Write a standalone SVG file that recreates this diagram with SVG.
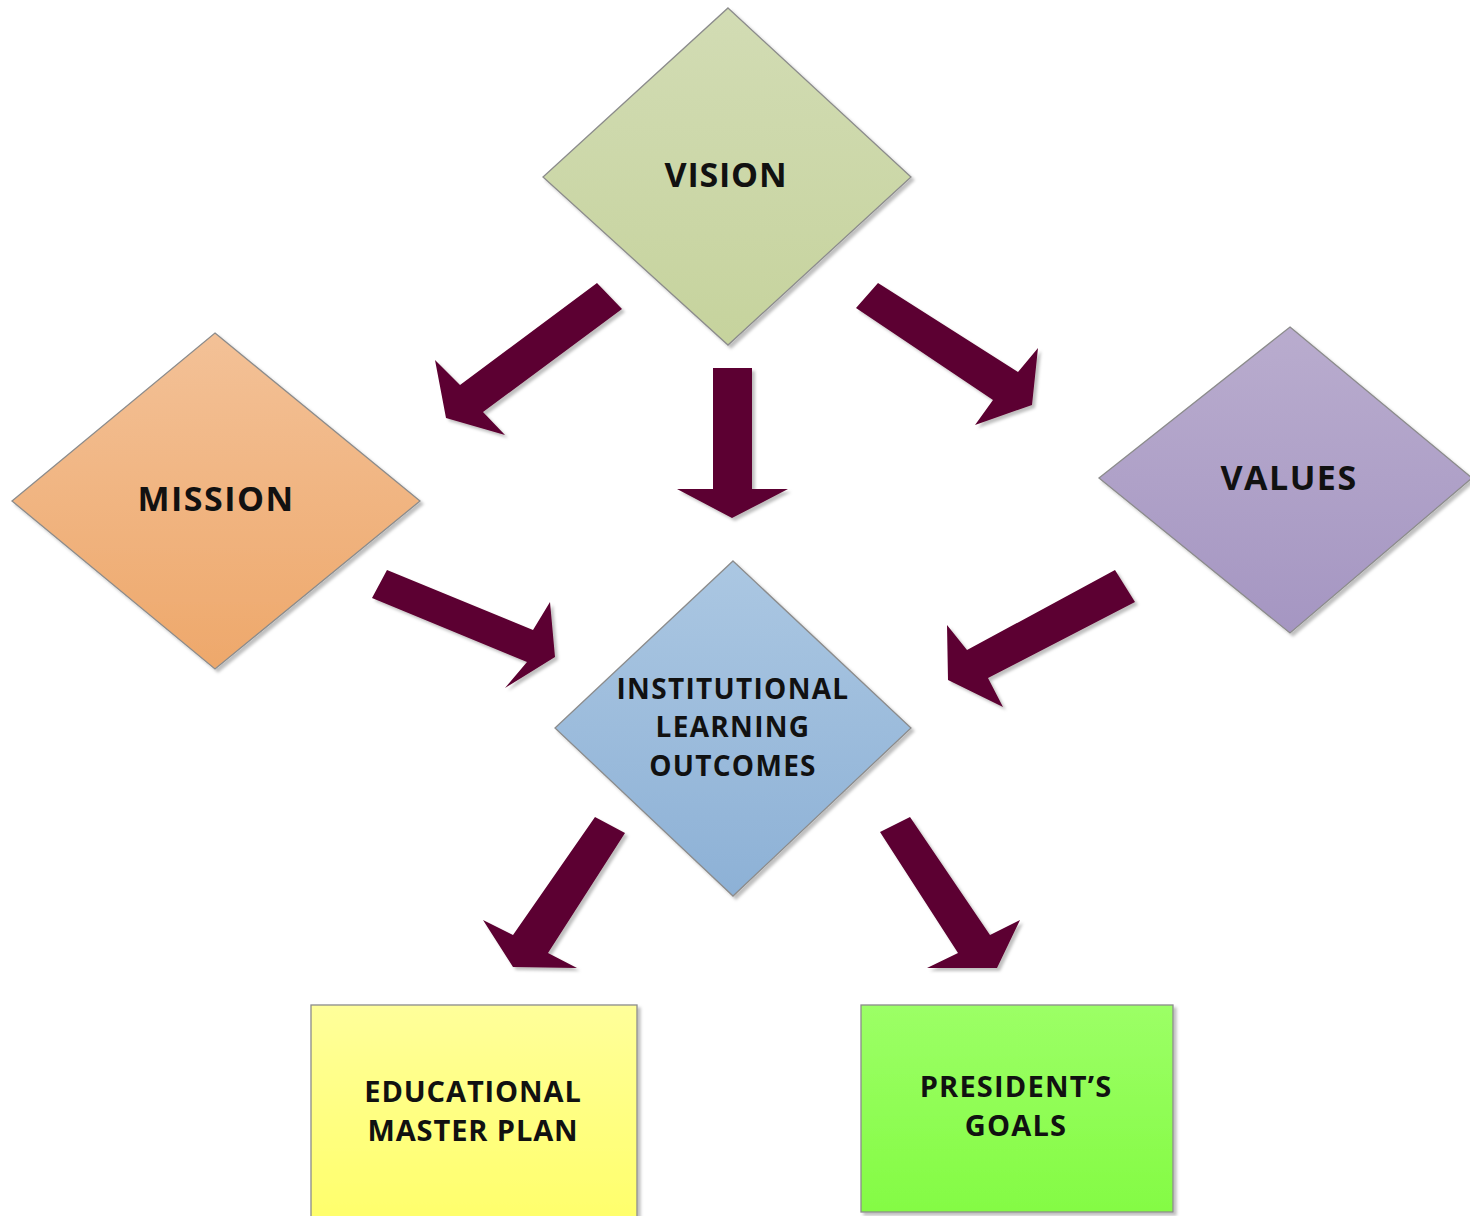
<svg xmlns="http://www.w3.org/2000/svg" width="1470" height="1216" viewBox="0 0 1470 1216">
<style>
.node{stroke:#8c8c8c;stroke-width:1.3}
.lbl{font-family:"Open Sans","Liberation Sans",sans-serif;font-weight:bold;fill:#111;text-anchor:middle}
.arrow{fill:#5c0030}
</style>
<defs>
<linearGradient id="gV" x1="0" y1="0" x2="0" y2="1"><stop offset="0" stop-color="#d2dcb4"/><stop offset="1" stop-color="#c6d39d"/></linearGradient>
<linearGradient id="gM" x1="0" y1="0" x2="0" y2="1"><stop offset="0" stop-color="#f3c197"/><stop offset="1" stop-color="#eea86b"/></linearGradient>
<linearGradient id="gVa" x1="0" y1="0" x2="0" y2="1"><stop offset="0" stop-color="#b9acce"/><stop offset="1" stop-color="#a596c2"/></linearGradient>
<linearGradient id="gI" x1="0" y1="0" x2="0" y2="1"><stop offset="0" stop-color="#abc7e2"/><stop offset="1" stop-color="#8db1d6"/></linearGradient>
<linearGradient id="gE" x1="0" y1="0" x2="0" y2="1"><stop offset="0" stop-color="#ffff9a"/><stop offset="1" stop-color="#ffff6a"/></linearGradient>
<linearGradient id="gP" x1="0" y1="0" x2="0" y2="1"><stop offset="0" stop-color="#9cff66"/><stop offset="1" stop-color="#84fb44"/></linearGradient>
<filter id="sh" x="-10%" y="-10%" width="130%" height="130%"><feDropShadow dx="3" dy="3" stdDeviation="1.5" flood-color="#000" flood-opacity="0.25"/></filter>
</defs>
<rect width="1470" height="1216" fill="#fff"/>
<g id="connectors" filter="url(#sh)">
<polygon class="arrow" points="597,283 622,309 483,412 505,435 446,418 435,360 460,385"/>
<polygon class="arrow" points="713,368 752,368 752,489 788,489 732,518 677,489 713,489"/>
<polygon class="arrow" points="878,283 1018,372 1038,348 1032,405 975,425 993,400 856,308"/>
<polygon class="arrow" points="387,570 533,630 550,602 555,657 505,688 527,662 372,598"/>
<polygon class="arrow" points="1115,570 967,650 947,625 948,680 1003,707 988,678 1135,602"/>
<polygon class="arrow" points="595,817 625,833 548,953 577,968 513,967 483,920 513,935"/>
<polygon class="arrow" points="910,817 990,935 1020,920 997,968 927,968 958,953 880,832"/>
</g>
<g id="vision">
<polygon class="node" fill="url(#gV)" filter="url(#sh)" points="728,8 911,177 728,345 543,177"/>
<text class="lbl" x="726" y="187" font-size="34" letter-spacing="0.8">VISION</text>
</g>
<g id="mission">
<polygon class="node" fill="url(#gM)" filter="url(#sh)" points="215,333 420,501 215,669 12,501"/>
<text class="lbl" x="216" y="511" font-size="34" letter-spacing="1.5">MISSION</text>
</g>
<g id="values">
<polygon class="node" fill="url(#gVa)" filter="url(#sh)" points="1290,327 1472,478 1290,633 1099,478"/>
<text class="lbl" x="1289" y="490" font-size="34" letter-spacing="1.5">VALUES</text>
</g>
<g id="ilo">
<polygon class="node" fill="url(#gI)" filter="url(#sh)" points="733,561 911,728 733,896 555,728"/>
<text class="lbl" x="733" y="699" font-size="28" letter-spacing="1.3">INSTITUTIONAL</text>
<text class="lbl" x="733" y="737" font-size="28" letter-spacing="1.3">LEARNING</text>
<text class="lbl" x="733" y="776" font-size="28" letter-spacing="1.3">OUTCOMES</text>
</g>
<g id="emp">
<rect class="node" fill="url(#gE)" filter="url(#sh)" x="311" y="1005" width="326" height="220"/>
<text class="lbl" x="473" y="1102" font-size="29" letter-spacing="0.9">EDUCATIONAL</text>
<text class="lbl" x="473" y="1141" font-size="29" letter-spacing="0.9">MASTER PLAN</text>
</g>
<g id="pg">
<rect class="node" fill="url(#gP)" filter="url(#sh)" x="861" y="1005" width="312" height="207"/>
<text class="lbl" x="1016" y="1097" font-size="29" letter-spacing="1.2">PRESIDENT’S</text>
<text class="lbl" x="1016" y="1136" font-size="29" letter-spacing="1.2">GOALS</text>
</g>
</svg>
